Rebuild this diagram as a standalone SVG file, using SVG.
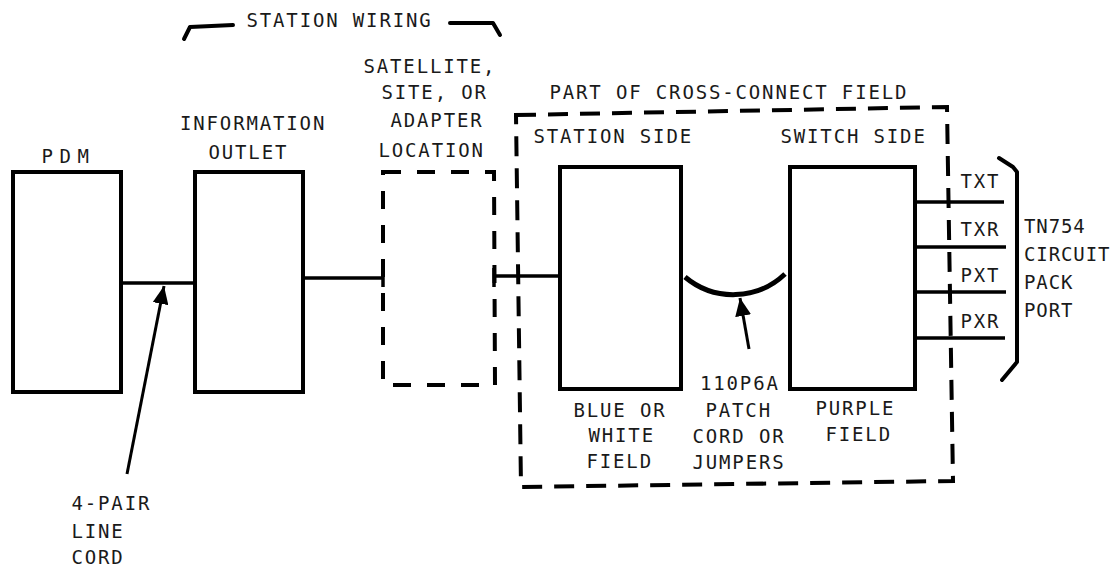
<svg xmlns="http://www.w3.org/2000/svg" width="1115" height="566" viewBox="0 0 1115 566">
<defs>
<style>
.box{fill:none;stroke:#000;stroke-width:4}
.dash{fill:none;stroke:#000;stroke-width:4;stroke-dasharray:20 12}
.dash2{fill:none;stroke:#000;stroke-width:4;stroke-dasharray:18 16}
.ln{fill:none;stroke:#000;stroke-width:3.5}
.br{fill:none;stroke:#000;stroke-width:4;stroke-linejoin:round;stroke-linecap:round}
text{font-family:"DejaVu Sans Mono","Liberation Mono",monospace;font-size:19px;letter-spacing:1.85px;fill:#1a1a1a}
.tight{letter-spacing:0.9px}
</style>
<marker id="ah" viewBox="0 0 18 16" refX="18" refY="8" markerWidth="18" markerHeight="16" orient="auto" markerUnits="userSpaceOnUse">
<path d="M0,0 L18,8 L0,16 z" fill="#000"/>
</marker>
</defs>
<rect width="1115" height="566" fill="#fff"/>

<g id="station-wiring">
<path class="br" d="M184,39 L190,27 L233,25"/>
<path class="br" d="M450,23 L493,23 L500,35"/>
<text x="246.5" y="27">STATION WIRING</text>
</g>

<g id="pdm">
<rect class="box" x="13" y="172" width="108" height="220"/>
<text x="41.5" y="163" style="letter-spacing:6.5px">PDM</text>
</g>

<g id="information-outlet">
<rect class="box" x="195" y="172" width="108" height="220"/>
<text x="180" y="130">INFORMATION</text>
<text x="208.5" y="159">OUTLET</text>
</g>

<g id="satellite-location">
<path class="dash2" d="M383,172 L494,172 L495,385 L383,385 Z"/>
<text x="363.5" y="73">SATELLITE,</text>
<text x="381.5" y="99">SITE, OR</text>
<text x="390.5" y="127">ADAPTER</text>
<text x="378.5" y="157">LOCATION</text>
</g>

<g id="cross-connect-field">
<path class="dash" d="M516,115 L947,107 L953,481 L521,487 Z"/>
<text x="549.5" y="99">PART OF CROSS-CONNECT FIELD</text>
<text x="533.5" y="143">STATION SIDE</text>
<text x="780.5" y="143">SWITCH SIDE</text>
</g>

<g id="blue-white-field">
<rect class="box" x="560" y="167" width="121" height="222"/>
<text x="573.5" y="417">BLUE OR</text>
<text x="588.5" y="442">WHITE</text>
<text x="586.5" y="468">FIELD</text>
</g>

<g id="purple-field">
<rect class="box" x="790" y="167" width="125" height="222"/>
<text x="815.5" y="415">PURPLE</text>
<text x="825.5" y="441">FIELD</text>
</g>

<g id="patch-cord-label">
<text x="700" y="390">110P6A</text>
<text x="705.5" y="417">PATCH</text>
<text x="692.5" y="443">CORD OR</text>
<text x="692.5" y="469">JUMPERS</text>
</g>

<g id="line-cord-label">
<text x="71.5" y="510">4-PAIR</text>
<text x="71.5" y="538">LINE</text>
<text x="71.5" y="564">CORD</text>
</g>

<g id="tn754-port">
<path class="br" d="M999,158 L1013,167 L1017,172 L1017,362 L1002,380"/>
<text x="960.5" y="188">TXT</text>
<text x="960.5" y="236">TXR</text>
<text x="960.5" y="282">PXT</text>
<text x="960.5" y="328">PXR</text>
<text class="tight" x="1024" y="233">TN754</text>
<text class="tight" x="1024" y="261">CIRCUIT</text>
<text class="tight" x="1024" y="289">PACK</text>
<text class="tight" x="1024" y="317">PORT</text>
</g>

<g id="connectors">
<line class="ln" x1="121" y1="283" x2="195" y2="283"/>
<line class="ln" x1="303" y1="278" x2="383" y2="278"/>
<line class="ln" x1="383" y1="270" x2="383" y2="287"/>
<line class="ln" x1="494" y1="268" x2="494" y2="287"/>
<line class="ln" x1="494" y1="276" x2="560" y2="276"/>
<path d="M685,277 A75,75 0 0 0 785,274" fill="none" stroke="#000" stroke-width="5"/>
<line class="ln" x1="917" y1="202" x2="1004" y2="202"/>
<line class="ln" x1="917" y1="247" x2="1006" y2="247"/>
<line class="ln" x1="917" y1="292" x2="1006" y2="292"/>
<line class="ln" x1="917" y1="338" x2="1005" y2="338"/>
<line x1="127" y1="474" x2="164" y2="286" stroke="#000" stroke-width="3" marker-end="url(#ah)"/>
<line x1="749" y1="349" x2="740" y2="298" stroke="#000" stroke-width="3" marker-end="url(#ah)"/>
</g>
</svg>
